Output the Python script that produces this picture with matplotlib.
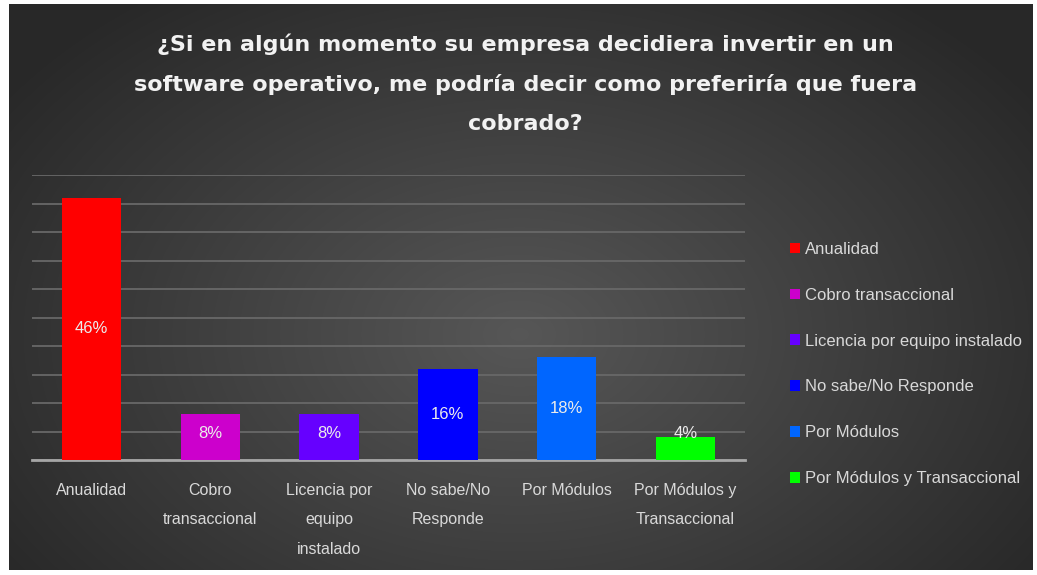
import numpy as np
import matplotlib.pyplot as plt
from matplotlib.patches import Patch

# Data
categories = ['Anualidad', 'Cobro transaccional', 'Licencia por equipo instalado',
              'No sabe/No Responde', 'Por Módulos', 'Por Módulos y Transaccional']
tick_labels = ['Anualidad', 'Cobro\ntransaccional', 'Licencia por\nequipo\ninstalado',
               'No sabe/No\nResponde', 'Por Módulos', 'Por Módulos y\nTransaccional']
values = [0.46, 0.08, 0.08, 0.16, 0.18, 0.04]
colors = ['#ff0000', '#cc00cc', '#6600ff', '#0000ff', '#0066ff', '#00ff00']

title = ('¿Si en algún momento su empresa decidiera invertir en un\n'
         'software operativo, me podría decir como preferiría que fuera\n'
         'cobrado?')

narrow = ['Liberation Sans Narrow', 'Liberation Sans', 'DejaVu Sans']
txt_col = '#d9d9d9'

fig = plt.figure(figsize=(10.37, 5.75), dpi=100, facecolor='white')

# dark radial-gradient background panel
bg = fig.add_axes([9 / 1037, 1 - 570 / 575, 1024 / 1037, 566 / 575], zorder=0)
yy, xx = np.mgrid[0:566, 0:1024]
d = np.sqrt(((xx - 510) / 620) ** 2 + ((yy - 330) / 420) ** 2)
shade = np.clip(0.34 - 0.18 * d, 0.16, 0.34)
bg.imshow(np.dstack([shade] * 3), aspect='auto', interpolation='bilinear')
bg.axis('off')

ax = fig.add_axes([32 / 1037, 1 - 460 / 575, 713 / 1037, 285 / 575], zorder=1)
ax.patch.set_alpha(0)
x = np.arange(len(values))
bars = ax.bar(x, values, width=0.5, color=colors, zorder=3)

for xi, v in zip(x, values):
    ax.text(xi, max(v / 2, 0.047), f'{v * 100:.0f}%', ha='center', va='center',
            color='#ececec', fontsize=12, family=narrow, zorder=4)

ax.set_xlim(-0.5, 5.5)
ax.set_ylim(0, 0.5)
ax.set_yticks(np.arange(0, 0.51, 0.05))
ax.yaxis.grid(True, color='#686868', linewidth=1.3, zorder=0)
ax.tick_params(left=False, labelleft=False, bottom=False)
ax.set_xticks(x)
ax.set_xticklabels(tick_labels, color=txt_col, fontsize=11.5, family=narrow,
                   linespacing=2.2)
ax.tick_params(axis='x', pad=13)
for s in ['top', 'right', 'left']:
    ax.spines[s].set_visible(False)
ax.spines['bottom'].set_color('#a6a6a6')
ax.spines['bottom'].set_linewidth(2)

fig.text(0.507, 0.942, title, ha='center', va='top', color='#f2f2f2',
         fontsize=16, fontweight='bold', linespacing=2.15)

handles = [Patch(facecolor=c, edgecolor='none') for c in colors]
leg = fig.legend(handles, categories, loc='center left',
                 bbox_to_anchor=(775 / 1037, 1 - 364 / 575), frameon=False,
                 labelspacing=1.85, handlelength=0.6, handleheight=0.6,
                 handletextpad=0.3, prop={'family': narrow, 'size': 12})
for t in leg.get_texts():
    t.set_color(txt_col)

fig.savefig('out.png', dpi=100, facecolor='white')
